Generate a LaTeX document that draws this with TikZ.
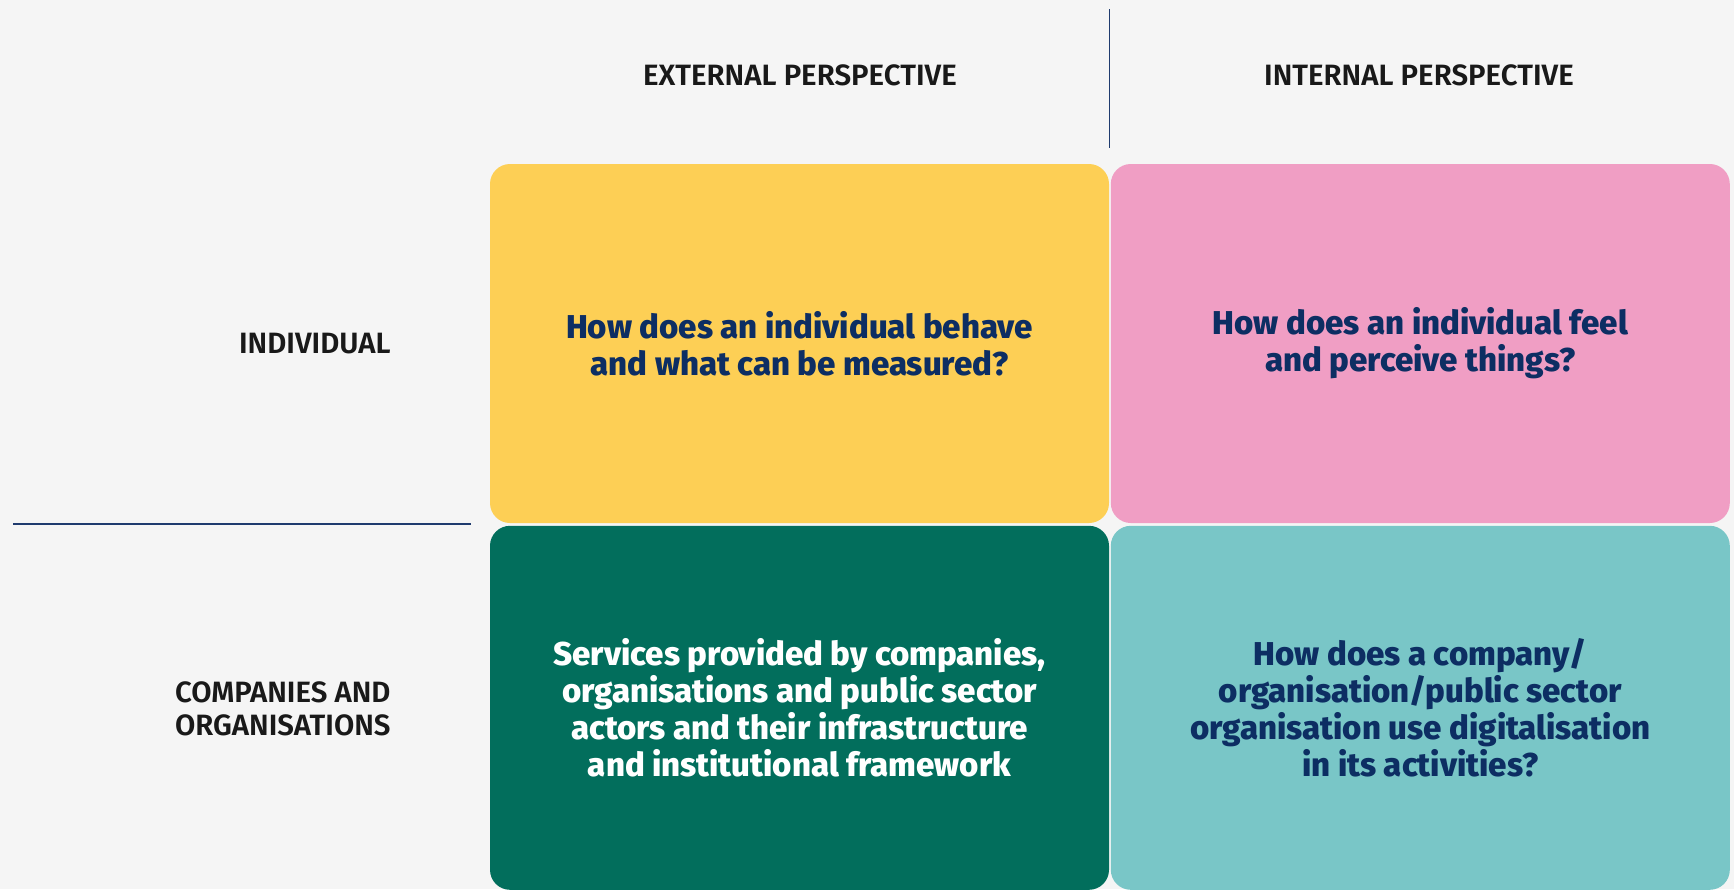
\documentclass[tikz,border=0pt]{standalone}
\usepackage{fontspec}
\setmainfont{Fira Sans}
\newfontfamily\headfont{Fira Sans SemiBold}
\newfontfamily\quadfont{Fira Sans ExtraBold}
\usetikzlibrary{positioning}
\definecolor{paper}{HTML}{F5F5F5}
\definecolor{sun}{HTML}{FDCF55}
\definecolor{rose}{HTML}{F09EC4}
\definecolor{forest}{HTML}{026E5C}
\definecolor{lagoon}{HTML}{79C6C7}
\definecolor{navy}{HTML}{0D2E63}
\definecolor{rule}{HTML}{1F3B6E}
\tikzset{
    quad/.style = {
        rounded corners=10pt,
        inner sep=0pt,
        minimum width=309.5pt,
        align=center,
        font=\quadfont\fontsize{16.5}{18.6}\selectfont,
        },
    top row/.style = {
        minimum height=179.5pt,
        },
    bottom row/.style = {
        minimum height=182pt,
        },
    heading/.style = {
        font=\headfont\fontsize{14.7}{16.5}\selectfont,
        text=black!90,
        inner sep=0pt,
        },
    divider/.style = {
        draw=rule,
        line width=0.75pt,
        },
}

\begin{document}
\begin{tikzpicture}[x=0.5pt, y=-0.5pt]
            \fill[paper] (0,0) rectangle (1734,889);
            \useasboundingbox (0,0) rectangle (1734,889);

            \node[quad, top row, fill=sun, text=navy] (behave) at (799.5,343.5)
                {How does an individual behave\\and what can be measured?};
            \node[quad, top row, fill=rose, text=navy, right=0.5pt of behave] (feel)
                {How does an individual feel\\and perceive things?};
            \node[quad, bottom row, fill=forest, text=white, below=1pt of behave] (services)
                {Services provided by companies,\\organisations and public sector\\actors and their infrastructure\\and institutional framework};
            \node[quad, bottom row, fill=lagoon, text=navy, right=0.5pt of services] (digital)
                {How does a company/\\organisation/public sector\\organisation use digitalisation\\in its activities?};

            \node[heading] (external) at (800,75) {EXTERNAL PERSPECTIVE};
            \node[heading] (internal) at (1419,75) {INTERNAL PERSPECTIVE};
            \node[heading, anchor=east] (individual) at (391,344) {INDIVIDUAL};
            \node[heading, anchor=east, align=left] (companies) at (391,709)
                {COMPANIES AND\\ORGANISATIONS};

            \coordinate (split top) at (1109.5,9);
            \coordinate (split bottom) at (1109.5,148);
            \coordinate (row left) at (13,524);
            \coordinate (row right) at (471,524);
            \draw[divider] (split top) -- (split bottom);
            \draw[divider] (row left) -- (row right);
        \end{tikzpicture}
\end{document}
